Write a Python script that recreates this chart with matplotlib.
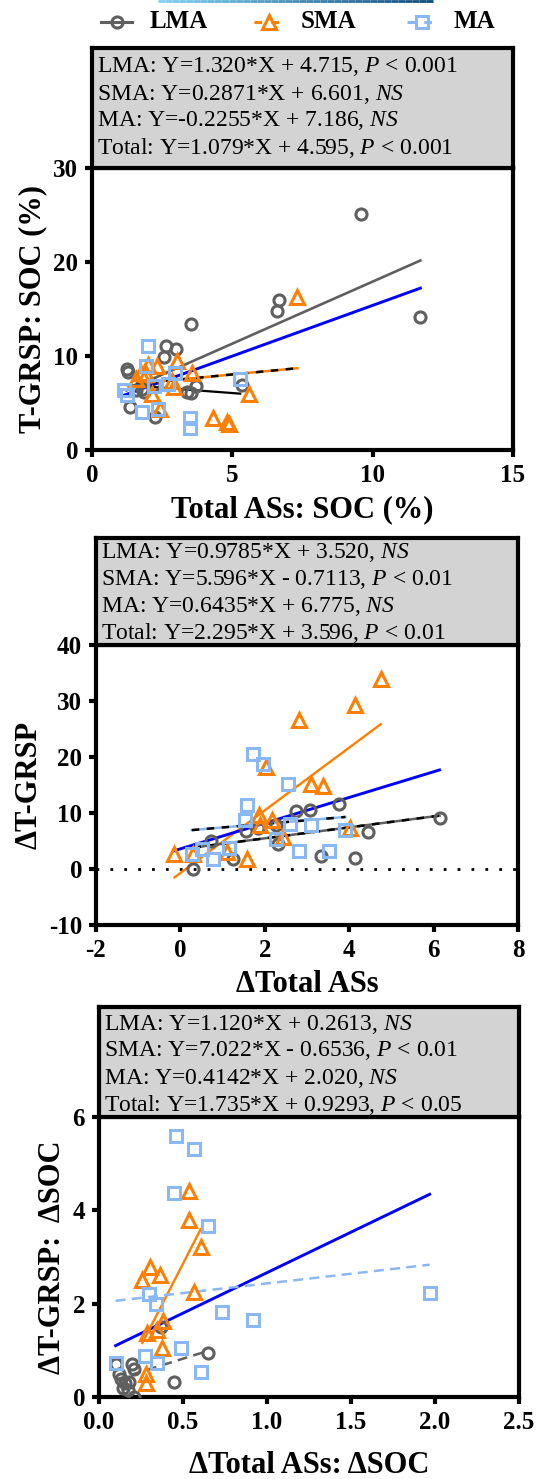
import matplotlib
matplotlib.use("Agg")
import matplotlib.pyplot as plt
from matplotlib.lines import Line2D
from matplotlib.collections import LineCollection
import numpy as np

plt.rcParams['font.family'] = ['Liberation Serif', 'DejaVu Serif']
plt.rcParams['mathtext.fontset'] = 'custom'
plt.rcParams['mathtext.rm'] = 'Liberation Serif'
plt.rcParams['mathtext.it'] = 'Liberation Serif:italic'
plt.rcParams['mathtext.bf'] = 'Liberation Serif:bold'
plt.rcParams['axes.unicode_minus'] = False

GRAY = "#5f5f5f"
ORANGE = "#ff7f00"
LBLUE = "#8ab8f5"
BLUE = "#0000ff"

groups = ["LMA", "SMA", "MA"]

# ---- panel 1: Total ASs SOC vs T-GRSP SOC
p1_lma_x = [9.6, 11.7, 6.67, 6.58, 3.51, 2.65, 3.01, 2.58, 1.23, 1.27, 5.36, 3.69, 3.39, 3.54, 2.20, 1.79, 1.58, 1.85, 1.35, 2.26]
p1_lma_y = [25.1, 14.2, 16.0, 14.8, 13.4, 11.1, 10.7, 9.9, 8.6, 8.3, 6.9, 6.8, 6.2, 6.1, 6.9, 6.5, 6.4, 6.2, 4.6, 3.55]
p1_sma_x = [7.32, 5.60, 4.32, 4.82, 4.88, 3.55, 3.04, 1.58, 1.73, 1.99, 2.32, 2.86, 2.92, 2.14, 2.42, 1.91]
p1_sma_y = [16.3, 6.0, 3.4, 3.0, 2.8, 8.2, 9.5, 7.6, 8.2, 9.0, 8.9, 7.3, 6.7, 6.0, 4.4, 8.1]
p1_ma_x = [2.0, 1.92, 1.15, 1.25, 1.78, 2.35, 3.48, 3.5, 5.28, 2.95, 2.7, 2.2]
p1_ma_y = [11.1, 8.9, 6.4, 5.8, 4.0, 4.4, 3.4, 2.3, 7.6, 8.2, 7.0, 6.8]
p1_fit = {"LMA": (1.320, 4.715), "SMA": (0.2871, 6.601), "MA": (-0.2255, 7.186), "Total": (1.079, 4.595)}
p1_eqs = ["LMA: Y=1.320*X + 4.715, $\\mathit{P}$ < 0.001",
          "SMA: Y=0.2871*X + 6.601, $\\mathit{NS}$",
          "MA: Y=-0.2255*X + 7.186, $\\mathit{NS}$",
          "Total: Y=1.079*X + 4.595, $\\mathit{P}$ < 0.001"]

# ---- panel 2: delta Total ASs vs delta T-GRSP
p2_lma_x = [0.31, 0.73, 1.24, 1.55, 1.84, 2.27, 2.31, 2.75, 3.06, 3.33, 3.76, 4.14, 4.45, 6.14]
p2_lma_y = [0.0, 5.0, 1.7, 6.8, 7.4, 7.9, 4.4, 10.3, 10.6, 2.4, 11.6, 2.0, 6.6, 9.1]
p2_sma_x = [-0.14, 0.31, 1.10, 1.58, 1.86, 1.88, 2.02, 2.18, 2.42, 2.82, 3.10, 3.39, 4.02, 4.14, 4.75]
p2_sma_y = [2.7, 2.7, 3.0, 1.8, 9.7, 7.8, 18.3, 8.7, 5.7, 26.6, 15.1, 14.9, 7.4, 29.3, 33.9]
p2_ma_x = [1.71, 1.95, 2.55, 1.57, 1.53, 0.27, 0.51, 0.78, 1.14, 2.59, 3.10, 2.81, 3.53, 3.91, 2.27]
p2_ma_y = [20.6, 18.7, 15.2, 11.5, 8.7, 2.6, 3.6, 1.7, 3.8, 8.1, 7.8, 3.2, 3.2, 7.0, 5.4]
p2_fit = {"LMA": (0.9785, 3.520), "SMA": (5.596, -0.7113), "MA": (0.6435, 6.775), "Total": (2.295, 3.596)}
p2_eqs = ["LMA: Y=0.9785*X + 3.520, $\\mathit{NS}$",
          "SMA: Y=5.596*X - 0.7113, $\\mathit{P}$ < 0.01",
          "MA: Y=0.6435*X + 6.775, $\\mathit{NS}$",
          "Total: Y=2.295*X + 3.596, $\\mathit{P}$ < 0.01"]

# ---- panel 3: delta ratio
p3_lma_x = [0.371, 0.649, 0.444, 0.099, 0.198, 0.206, 0.119, 0.133, 0.153, 0.18, 0.143, 0.173, 0.206]
p3_lma_y = [1.51, 0.94, 0.32, 0.71, 0.71, 0.61, 0.5, 0.39, 0.3, 0.32, 0.2, 0.14, 0.01]
p3_sma_x = [0.536, 0.536, 0.605, 0.302, 0.365, 0.258, 0.563, 0.381, 0.286, 0.345, 0.377, 0.278, 0.278]
p3_sma_y = [4.41, 3.8, 3.21, 2.79, 2.61, 2.5, 2.25, 1.62, 1.37, 1.44, 1.04, 0.49, 0.29]
p3_ma_x = [0.456, 0.563, 0.444, 0.649, 0.298, 0.337, 0.734, 0.917, 1.968, 0.49, 0.272, 0.345, 0.609, 0.099]
p3_ma_y = [5.59, 5.32, 4.37, 3.67, 2.21, 2.0, 1.82, 1.66, 2.23, 1.04, 0.87, 0.73, 0.54, 0.73]
p3_fit = {"LMA": (1.120, 0.2613), "SMA": (7.022, -0.6536), "MA": (0.4142, 2.020), "Total": (1.735, 0.9293)}
p3_eqs = ["LMA: Y=1.120*X + 0.2613, $\\mathit{NS}$",
          "SMA: Y=7.022*X - 0.6536, $\\mathit{P}$ < 0.01",
          "MA: Y=0.4142*X + 2.020, $\\mathit{NS}$",
          "Total: Y=1.735*X + 0.9293, $\\mathit{P}$ < 0.05"]

W, H = 539, 1479
fig = plt.figure(figsize=(W / 100, H / 100), dpi=100)


def add_ax(l, t, r, b):
	return fig.add_axes([l / W, 1 - b / H, (r - l) / W, (b - t) / H])


def style(ax):
	for s in ax.spines.values():
		s.set_linewidth(3)
	ax.tick_params(direction="out", length=5, width=3, labelsize=18, pad=5)
	for lab in ax.get_xticklabels() + ax.get_yticklabels():
		lab.set_fontweight("bold")


def eq_box(l, t, r, b, lines, first, step):
	bx = add_ax(l, t, r, b)
	bx.set_facecolor("#d3d3d3")
	bx.set_xticks([])
	bx.set_yticks([])
	for s in bx.spines.values():
		s.set_linewidth(3)
	for i, s in enumerate(lines):
		fig.text((l + 5) / W, 1 - (first + i * step) / H, s, fontsize=17, va="center", ha="left")


def fit_line(ax, xs, key, fits, **kw):
	k, c = fits[key]
	xx = np.array([min(xs), max(xs)])
	ax.plot(xx, k * xx + c, **kw)


def scatter(ax, data):
	mk = {"LMA": ("o", GRAY, 8), "SMA": ("^", ORANGE, 9.5), "MA": ("s", LBLUE, 8)}
	for g, (xs, ys) in zip(groups, data):
		m, col, ms = mk[g]
		ax.plot(xs, ys, ls="none", marker=m, ms=ms, mfc="none", mec=col, mew=2.2, zorder=4)


# ---- panel 1
ax1 = add_ax(92, 168, 513, 450)
eq_box(92, 48, 513, 168, p1_eqs, 67, 27)
scatter(ax1, [(p1_lma_x, p1_lma_y), (p1_sma_x, p1_sma_y), (p1_ma_x, p1_ma_y)])
fit_line(ax1, p1_lma_x, "LMA", p1_fit, color=GRAY, lw=1.9, zorder=3)
fit_line(ax1, p1_lma_x + p1_sma_x + p1_ma_x, "Total", p1_fit, color=BLUE, lw=2.1, zorder=3)
fit_line(ax1, p1_sma_x, "SMA", p1_fit, color=ORANGE, lw=1.8, zorder=3)
fit_line(ax1, p1_sma_x, "SMA", p1_fit, color="black", lw=1.8, ls=(0, (3, 3)), zorder=3)
fit_line(ax1, p1_ma_x, "MA", p1_fit, color="black", lw=1.6, zorder=3)
ax1.set_xlim(0, 15)
ax1.set_ylim(0, 30)
ax1.set_xticks([0, 5, 10, 15])
ax1.set_yticks([0, 10, 20, 30])
style(ax1)
ax1.set_xlabel("Total ASs: SOC (%)", fontsize=22, fontweight="bold", labelpad=6)
ax1.set_ylabel("T-GRSP: SOC (%)", fontsize=22, fontweight="bold", labelpad=4)

# ---- panel 2
ax2 = add_ax(96, 645, 518, 925)
eq_box(96, 538, 518, 645, p2_eqs, 552, 27)
ax2.axhline(0, color="black", lw=2, ls=(0, (1, 4)), zorder=1)
scatter(ax2, [(p2_lma_x, p2_lma_y), (p2_sma_x, p2_sma_y), (p2_ma_x, p2_ma_y)])
fit_line(ax2, p2_sma_x, "SMA", p2_fit, color=ORANGE, lw=1.7, zorder=3)
fit_line(ax2, p2_lma_x + p2_sma_x + p2_ma_x, "Total", p2_fit, color=BLUE, lw=2.1, zorder=3)
fit_line(ax2, p2_lma_x, "LMA", p2_fit, color=GRAY, lw=1.8, zorder=3)
fit_line(ax2, p2_lma_x, "LMA", p2_fit, color="black", lw=1.8, ls=(0, (3, 3)), zorder=3)
fit_line(ax2, p2_ma_x, "MA", p2_fit, color=LBLUE, lw=1.8, zorder=3)
fit_line(ax2, p2_ma_x, "MA", p2_fit, color="black", lw=1.8, ls=(0, (3, 3)), zorder=3)
ax2.set_xlim(-2, 8)
ax2.set_ylim(-10, 40)
ax2.set_xticks([-2, 0, 2, 4, 6, 8])
ax2.set_yticks([-10, 0, 10, 20, 30, 40])
style(ax2)
ax2.set_xlabel("ΔTotal ASs", fontsize=22, fontweight="bold", labelpad=6)
ax2.set_ylabel("ΔT-GRSP", fontsize=22, fontweight="bold", labelpad=4)

# ---- panel 3
ax3 = add_ax(99, 1117, 519, 1397)
eq_box(99, 1007, 519, 1117, p3_eqs, 1024, 27)
scatter(ax3, [(p3_lma_x, p3_lma_y), (p3_sma_x, p3_sma_y), (p3_ma_x, p3_ma_y)])
fit_line(ax3, p3_lma_x + p3_sma_x + p3_ma_x, "Total", p3_fit, color=BLUE, lw=2.1, zorder=3)
fit_line(ax3, p3_sma_x, "SMA", p3_fit, color=ORANGE, lw=1.7, zorder=3)
fit_line(ax3, p3_lma_x, "LMA", p3_fit, color=GRAY, lw=1.8, ls=(0, (4, 2.5)), zorder=3)
fit_line(ax3, p3_ma_x, "MA", p3_fit, color=LBLUE, lw=1.8, ls=(0, (4, 2.5)), zorder=3)
ax3.set_xlim(0, 2.5)
ax3.set_ylim(0, 6)
ax3.set_xticks([0, 0.5, 1.0, 1.5, 2.0, 2.5])
ax3.set_xticklabels(["0.0", "0.5", "1.0", "1.5", "2.0", "2.5"])
ax3.set_yticks([0, 2, 4, 6])
style(ax3)
ax3.set_xlabel("ΔTotal ASs: ΔSOC", fontsize=22, fontweight="bold", labelpad=12)
ax3.set_ylabel("ΔT-GRSP:  ΔSOC", fontsize=22, fontweight="bold", labelpad=4)

# ---- legend at the top, drawn by hand
leg_y = 1 - 22 / H
leg = [(101, 132, GRAY, "o", 8, "-", "LMA", 150),
       (254, 284, ORANGE, "^", 9.5, (0, (2.5, 3)), "SMA", 301),
       (407, 437, LBLUE, "s", 8, (0, (2.5, 3)), "MA", 454)]
for x0, x1, col, m, ms, ls, name, tx in leg:
	fig.add_artist(Line2D([x0 / W, x1 / W], [leg_y, leg_y], color=col, lw=2.2, ls=ls, transform=fig.transFigure))
	fig.add_artist(Line2D([(x0 + x1) / 2 / W], [leg_y], ls="none", marker=m, ms=ms, mfc="none", mec=col, mew=2.2,
						  transform=fig.transFigure))
	fig.text(tx / W, leg_y, name, fontsize=18, fontweight="bold", va="center", ha="left")

# thin gradient stroke along the top edge
gx = np.linspace(158, 433, 40) / W
segs = [[(gx[i], 1 - 0.8 / H), (gx[i + 1], 1 - 0.8 / H)] for i in range(len(gx) - 1)]
cmap = matplotlib.colors.LinearSegmentedColormap.from_list("g", ["#7fd0f5", "#0a4a7a"])
fig.add_artist(LineCollection(segs, colors=[cmap(i / 38) for i in range(39)], lw=2, transform=fig.transFigure))

fig.savefig("out.png", dpi=100)
